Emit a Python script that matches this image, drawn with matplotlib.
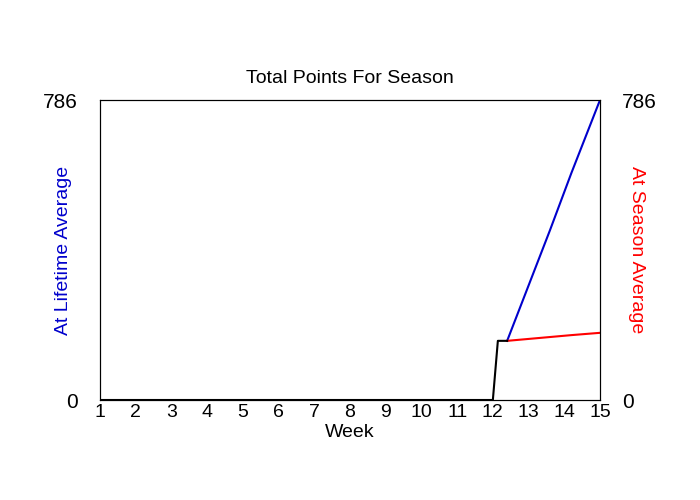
import matplotlib.pyplot as plt

plt.rcParams['font.family'] = ['Liberation Sans', 'DejaVu Sans']

# --- Data ---
weeks = list(range(1, 16))
week_labels = [str(w) for w in weeks]
y_max = 786

actual_x = [1, 2, 3, 4, 5, 6, 7, 8, 9, 10, 11, 12, 12.14, 12.4]
actual_y = [0, 0, 0, 0, 0, 0, 0, 0, 0, 0, 0, 0, 155, 155]

lifetime_x = [12.4, 13.0, 13.6, 14.2, 15.0]
lifetime_y = [155, 300, 445, 595, 786]

season_x = [12.4, 13.0, 13.6, 14.2, 15.0]
season_y = [155, 160, 165, 170, 176]

# --- Figure ---
fig = plt.figure(figsize=(7, 5), dpi=100)
ax = fig.add_axes([100 / 700, 0.2, 500 / 700, 0.6])

ax.plot(lifetime_x, lifetime_y, color='#0000cc', linewidth=1.5)
ax.plot(season_x, season_y, color='#ff0000', linewidth=1.5)
ax.plot(actual_x, actual_y, color='black', linewidth=1.5)

ax.set_xlim(1, 15)
ax.set_ylim(0, y_max)
ax.set_xticks(weeks)
ax.set_xticklabels(week_labels)
ax.set_yticks([0, y_max])
ax.tick_params(axis='x', length=0, pad=3, labelsize=14)
ax.tick_params(axis='y', length=0, pad=16, labelsize=15)
ax.set_xlabel('Week', fontsize=14, labelpad=2)
ax.set_ylabel('At Lifetime Average', color='#0000cc', fontsize=14)
ax.yaxis.set_label_coords(-0.056, 0.5)
ax.set_title('Total Points For Season', fontsize=14, pad=12)

ax2 = ax.twinx()
ax2.set_ylim(0, y_max)
ax2.set_yticks([0, y_max])
ax2.tick_params(axis='y', length=0, pad=16, labelsize=15)
ax2.set_ylabel('At Season Average', color='#ff0000', fontsize=14, rotation=270)
ax2.yaxis.set_label_coords(1.09, 0.5)

fig.savefig('out.png', dpi=100)
